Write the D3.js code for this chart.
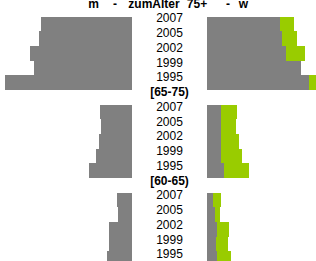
<!DOCTYPE html>
<html>
<head>
<meta charset="utf-8">
<script src="https://cdn.jsdelivr.net/npm/d3@7"></script>
<style>
html,body{margin:0;padding:0;background:#fff;overflow:hidden;}
svg{display:block;}
</style>
</head>
<body>
<svg id="chart" width="316" height="261"></svg>
<script>
// ---- data ----
const years = ["2007", "2005", "2002", "1999", "1995"];
const groups = ["75+", "[65-75)", "[60-65)"];
const titleParts = ["m", "-", "zumAlter", "75+", "-", "w"];
// men (left side)
const men75 = [91, 93, 102, 98, 127];
const men6575 = [32, 31, 33, 36, 43];
const men6065 = [15, 14, 23, 23, 25];
// women, grey part (right side)
const womenGrey75 = [73, 75, 79, 94, 102];
const womenGrey6575 = [14, 14, 14, 14, 17];
const womenGrey6065 = [6, 8, 10, 9, 10];
// women, green part (right side)
const womenGreen75 = [14, 15, 19, 0, 7];
const womenGreen6575 = [16, 15, 18, 21, 25];
const womenGreen6065 = [8, 5, 12, 12, 14];

// ---- layout ----
const W = 316, H = 261;
const leftEdge = 132, rightEdge = 207, midX = 169.5;
const GREY = "#808080", GREEN = "#99CC00";

const menAll = [men75, men6575, men6065];
const greyAll = [womenGrey75, womenGrey6575, womenGrey6065];
const greenAll = [womenGreen75, womenGreen6575, womenGreen6065];

const rows = [];
groups.forEach((g, gi) => {
  if (gi > 0) rows.push({type: "group", label: g});
  years.forEach((yr, yi) => {
    rows.push({type: "year", label: yr, men: menAll[gi][yi], grey: greyAll[gi][yi], green: greenAll[gi][yi]});
  });
});

const svg = d3.select("#chart");
const step = 14.65;
const y = d3.scaleBand().domain(d3.range(rows.length + 1)).range([2.1, 2.1 + step * (rows.length + 1)]).paddingInner(0).paddingOuter(0);
const x = d3.scaleLinear().domain([0, 130]).range([0, 130]);

const yearRows = rows.map((r, i) => ({...r, k: i + 1})).filter(r => r.type === "year");

svg.append("g").attr("shape-rendering", "crispEdges")
  .selectAll("rect.m").data(yearRows).join("rect")
  .attr("x", d => leftEdge - x(d.men)).attr("y", d => y(d.k))
  .attr("width", d => x(d.men)).attr("height", y.bandwidth())
  .attr("fill", GREY);

svg.append("g").attr("shape-rendering", "crispEdges")
  .selectAll("rect.wg").data(yearRows).join("rect")
  .attr("x", rightEdge).attr("y", d => y(d.k))
  .attr("width", d => x(d.grey)).attr("height", y.bandwidth())
  .attr("fill", GREY);

svg.append("g").attr("shape-rendering", "crispEdges")
  .selectAll("rect.wgr").data(yearRows.filter(d => d.green > 0)).join("rect")
  .attr("x", d => rightEdge + x(d.grey)).attr("y", d => y(d.k))
  .attr("width", d => x(d.green)).attr("height", y.bandwidth())
  .attr("fill", GREEN);

// labels
const font = "'Liberation Sans', Arial, sans-serif";
svg.append("g").selectAll("text").data(rows.map((r, i) => ({...r, k: i + 1}))).join("text")
  .attr("x", midX).attr("y", d => y(d.k) + 5.4 + 0.1 * d.k)
  .attr("text-anchor", "middle")
  .attr("font-family", font).attr("font-size", 12)
  .attr("font-weight", d => d.type === "group" ? "bold" : "normal")
  .attr("fill", "#000")
  .text(d => d.label);

// title
const titleX = [93.5, 115, 154, 197, 228, 243.5];
svg.append("g").selectAll("text").data(titleParts).join("text")
  .attr("x", (d, i) => titleX[i]).attr("y", y(0) + 5.7)
  .attr("text-anchor", "middle")
  .attr("font-family", font).attr("font-size", 12).attr("font-weight", "bold")
  .text(d => d);
</script>
</body>
</html>
